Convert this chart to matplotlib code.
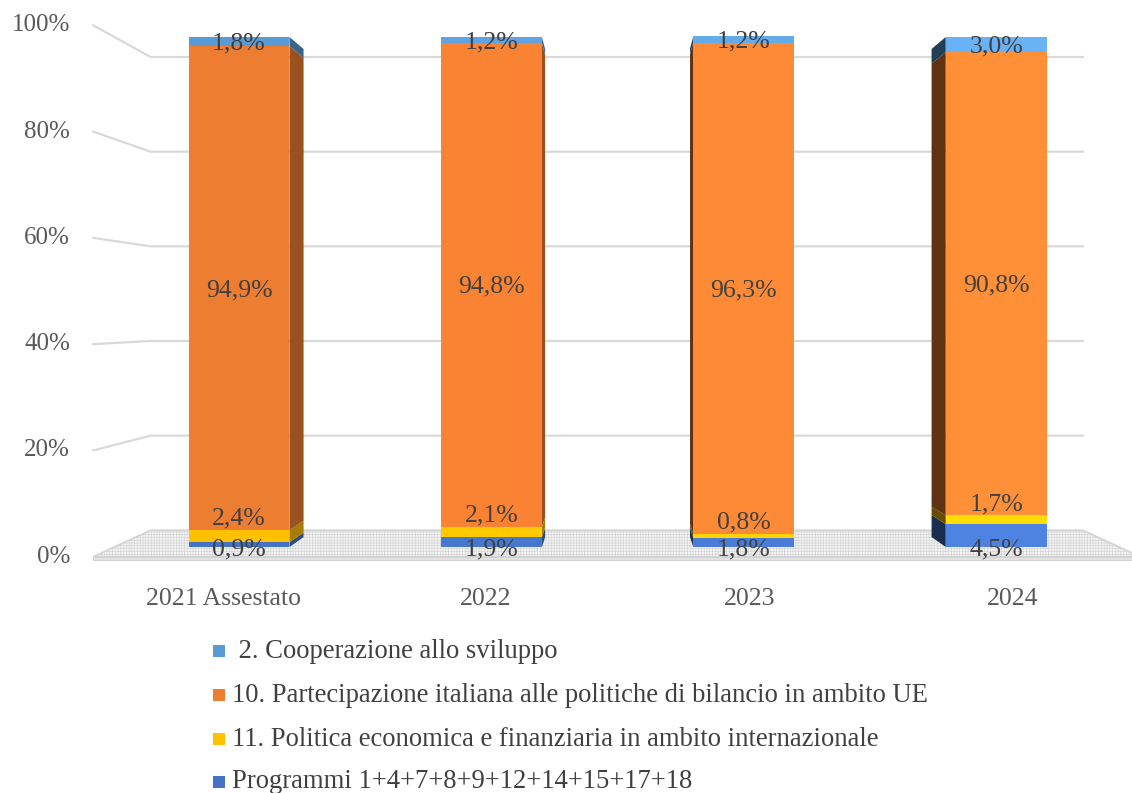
import matplotlib
matplotlib.use("Agg")
import matplotlib.pyplot as plt
from matplotlib.patches import Polygon, Rectangle
from matplotlib.colors import to_rgb


CATEGORIES = ["2021 Assestato", "2022", "2023", "2024"]

SERIES_NAMES = [
    "Programmi 1+4+7+8+9+12+14+15+17+18",
    "11. Politica economica e finanziaria in ambito internazionale",
    "10. Partecipazione italiana alle politiche di bilancio in ambito UE",
    " 2. Cooperazione allo sviluppo",
]

PROGRAMMI = [0.9, 1.9, 1.8, 4.5]
POLITICA_ECONOMICA = [2.4, 2.1, 0.8, 1.7]
PARTECIPAZIONE_UE = [94.9, 94.8, 96.3, 90.8]
COOPERAZIONE = [1.8, 1.2, 1.2, 3.0]

Y_TICKS = [0, 20, 40, 60, 80, 100]

SERIES_COLORS = ["#4472C4", "#FFC000", "#ED7D31", "#5B9BD5"]

# lighting of the front faces, left to right
BAR_LIGHT = [1.0, 1.05, 1.1, 1.15]

W_PX, H_PX = 1132, 793

# data plane = front face of the bars
CAT0_PX = 239
PX_PER_CAT = 252.4
ZERO_PX = 547
PX_PER_PCT = 5.1

# vanishing point (data units) and depth factors
VP_X = (617 - CAT0_PX) / PX_PER_CAT
VP_Y = (ZERO_PX - 315) / PX_PER_PCT
DEPTH_EDGE = 1.042
DEPTH_BAR_BACK = 0.957
DEPTH_WALL = 0.928
X_LEFT = -0.494
X_RIGHT = 3.487
BAR_WIDTH = 0.4

TEXT_COLOR = "#404040"
TICK_COLOR = "#595959"
GRID_COLOR = "#D9D9D9"
FONT = "Liberation Serif"


def proj(x, y, depth):
    return VP_X + depth * (x - VP_X), VP_Y + depth * (y - VP_Y)


def shade(color, factor):
    r, g, b = to_rgb(color)
    return (min(r * factor, 1), min(g * factor, 1), min(b * factor, 1))


def fmt_pct(value):
    return f"{value:.1f}".replace(".", ",") + "%"


def main():
    fig = plt.figure(figsize=(W_PX / 100, H_PX / 100), dpi=100)
    ax = fig.add_axes([0, 0, 1, 1])
    ax.set_xlim(-CAT0_PX / PX_PER_CAT, (W_PX - CAT0_PX) / PX_PER_CAT)
    ax.set_ylim((ZERO_PX - H_PX) / PX_PER_PCT, ZERO_PX / PX_PER_PCT)
    ax.axis("off")

    # floor
    floor = [
        proj(X_LEFT, 0, DEPTH_EDGE),
        proj(X_LEFT, 0, DEPTH_WALL),
        proj(X_RIGHT, 0, DEPTH_WALL),
        proj(X_RIGHT, 0, DEPTH_EDGE),
    ]
    plt.rcParams["hatch.linewidth"] = 0.4
    plt.rcParams["hatch.color"] = "#CACACA"
    ax.add_patch(Polygon(floor, closed=True, facecolor="#F2F2F2",
                         edgecolor="#D3D3D3", hatch="++++++", lw=1.2, zorder=1))
    slab = [
        proj(X_LEFT, 0, DEPTH_EDGE),
        proj(X_RIGHT, 0, DEPTH_EDGE),
        proj(X_RIGHT, -0.6, DEPTH_EDGE),
        proj(X_LEFT, -0.6, DEPTH_EDGE),
    ]
    ax.add_patch(Polygon(slab, closed=True, facecolor="#E2E2E2",
                         edgecolor="#D3D3D3", lw=0.8, zorder=1))

    # gridlines on side wall and back wall, y tick labels
    for tick in Y_TICKS:
        if tick > 0:
            pts = [
                proj(X_LEFT, tick, DEPTH_EDGE),
                proj(X_LEFT, tick, DEPTH_WALL),
                proj(X_RIGHT, tick, DEPTH_WALL),
            ]
            ax.plot([p[0] for p in pts], [p[1] for p in pts],
                    color=GRID_COLOR, lw=1.6, zorder=1.5,
                    solid_joinstyle="round")
        lx, ly = proj(X_LEFT, tick, DEPTH_EDGE)
        ax.text(lx - 0.092, ly, f"{tick}%", ha="right", va="center",
                fontsize=18, color=TICK_COLOR, family=FONT)

    # category labels in the front plane
    for i, name in enumerate(CATEGORIES):
        cx, cy = proj(i, -8.0, DEPTH_EDGE)
        ax.text(cx, cy, name, ha="center", va="center",
                fontsize=18.5, color=TICK_COLOR, family=FONT)

    series = [PROGRAMMI, POLITICA_ECONOMICA, PARTECIPAZIONE_UE, COOPERAZIONE]
    bottoms = [0.0] * len(CATEGORIES)

    for s, values in enumerate(series):
        for i, value in enumerate(values):
            base = bottoms[i]
            top = base + value
            front = shade(SERIES_COLORS[s], BAR_LIGHT[i])

            if i < VP_X:
                edge = i + BAR_WIDTH / 2
                side_factor = 0.65
            else:
                edge = i - BAR_WIDTH / 2
                side_factor = 0.4
            side = [
                proj(edge, base, 1.0),
                proj(edge, top, 1.0),
                proj(edge, top, DEPTH_BAR_BACK),
                proj(edge, base, DEPTH_BAR_BACK),
            ]
            ax.add_patch(Polygon(side, closed=True,
                                 facecolor=shade(SERIES_COLORS[s], side_factor),
                                 edgecolor="none", zorder=2))
            ax.bar(i, value, width=BAR_WIDTH, bottom=base, color=front,
                   edgecolor="none", zorder=3)

            if s == 0:
                label_y = -0.4
            elif s == 1:
                label_y = top + 2.2
            else:
                label_y = base + value / 2 - 0.4
            ax.text(i, label_y, fmt_pct(value), ha="center", va="center",
                    fontsize=18.5, color=TEXT_COLOR, family=FONT, zorder=5)
        bottoms = [b + v for b, v in zip(bottoms, values)]

    # legend, top entry is the top of the stack
    row_y = [651, 695, 739, 782]
    for row, s in enumerate(reversed(range(len(SERIES_NAMES)))):
        y = row_y[row]
        fig.add_artist(Rectangle((213 / W_PX, 1 - (y + 6) / H_PX),
                                 12 / W_PX, 12 / H_PX,
                                 transform=fig.transFigure,
                                 facecolor=SERIES_COLORS[s], edgecolor="none"))
        fig.text(232 / W_PX, 1 - y / H_PX, SERIES_NAMES[s], ha="left",
                 va="center", fontsize=19.2, color=TEXT_COLOR, family=FONT)

    fig.savefig("out.png", dpi=100)
    plt.close(fig)


if __name__ == "__main__":
    main()
